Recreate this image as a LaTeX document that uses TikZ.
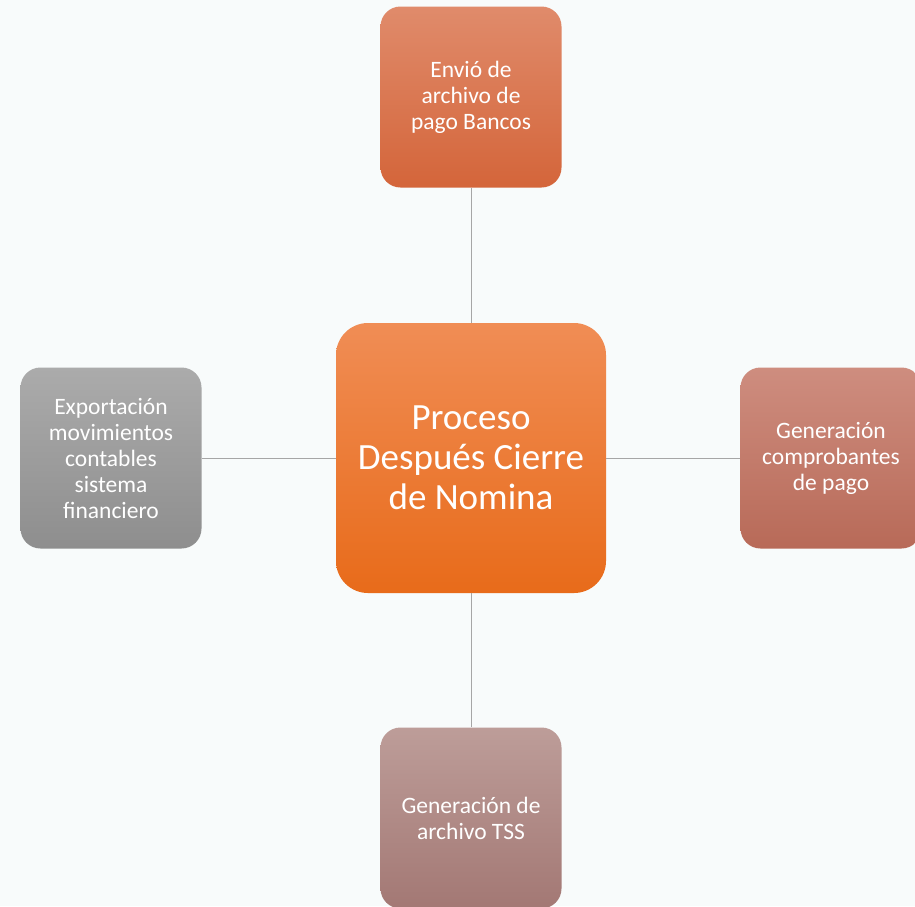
\documentclass[tikz,border=0pt]{standalone}
\usepackage{fontspec}
\setmainfont{Carlito}
\usetikzlibrary{positioning}
\definecolor{fondo}{HTML}{F8FBFB}
\definecolor{linea}{HTML}{A6A6A6}
\definecolor{cTop}{HTML}{F08D55}
\definecolor{cBot}{HTML}{E86B1A}
\tikzset{x=1pt, y=-1pt,
    caja/.style={shade, shading angle=0, rounded corners=20pt,
        minimum width=181pt, minimum height=181pt,
        align=center, text=white, font=\fontsize{23.5}{26}\selectfont},
    centro/.style={caja, rounded corners=32pt,
        minimum width=270pt, minimum height=270pt,
        top color=cTop, bottom color=cBot,
        font=\fontsize{37}{40}\selectfont},
    conector/.style={draw=linea, line width=1pt},
    }
\begin{document}
\begin{tikzpicture}
	\fill[fondo] (0,0) rectangle (915,906);
	\useasboundingbox (0,0) rectangle (915,906);
	% nodo central
	\node[centro] (proc) at (471,458) {Proceso\\Después Cierre\\de Nomina};
	% ramas
	\node[caja, top color={rgb,255:red,224;green,139;blue,107}, bottom color={rgb,255:red,212;green,101;blue,58}]
		(bancos) at (471,97) {Envió de\\archivo de\\pago Bancos};
	\node[caja, top color={rgb,255:red,206;green,141;blue,127}, bottom color={rgb,255:red,184;green,106;blue,88}]
		(compr) at (831,458) {Generación\\comprobantes\\de pago};
	\node[caja, top color={rgb,255:red,189;green,157;blue,153}, bottom color={rgb,255:red,163;green,120;blue,116}]
		(tss) at (471,818) {Generación de\\archivo TSS};
	\node[caja, top color={rgb,255:red,171;green,171;blue,171}, bottom color={rgb,255:red,142;green,142;blue,142}]
		(export) at (111,458) {Exportación\\movimientos\\contables\\sistema\\financiero};
	% conectores
	\draw[conector] (proc) -- (bancos);
	\draw[conector] (proc) -- (compr);
	\draw[conector] (proc) -- (tss);
	\draw[conector] (proc) -- (export);
\end{tikzpicture}
\end{document}
